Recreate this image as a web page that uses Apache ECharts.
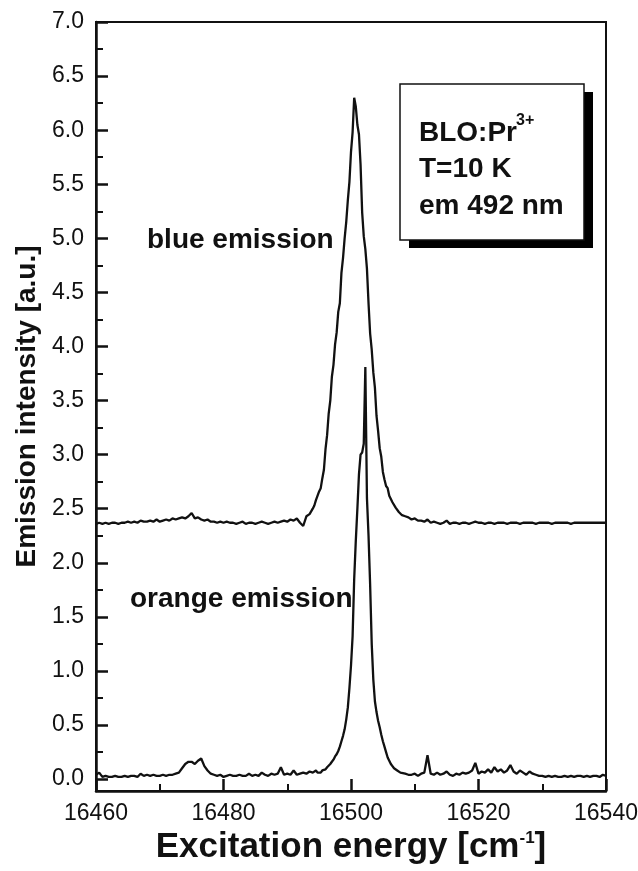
<!DOCTYPE html>
<html>
<head>
<meta charset="utf-8">
<script src="https://cdn.jsdelivr.net/npm/echarts@6/dist/echarts.min.js"></script>
<style>
  html, body { margin: 0; padding: 0; background: #fff; }
  #chart { width: 638px; height: 871px; }
</style>
</head>
<body>
<div id="chart"></div>
<script>
// excitation energy grid (cm-1): coarse wings, fine steps across the peaks
var energyA = [
  16460, 16460.5, 16461, 16461.5, 16462, 16462.5, 16463, 16463.5, 16464, 16464.5,
  16465, 16465.5, 16466, 16466.5, 16467, 16467.5, 16468, 16468.5, 16469, 16469.5,
  16470, 16470.5, 16471, 16471.5, 16472, 16472.5, 16473, 16473.5, 16474, 16474.5,
  16475, 16475.5, 16476, 16476.5, 16477, 16477.5, 16478, 16478.5, 16479, 16479.5,
  16480, 16480.5, 16481, 16481.5, 16482, 16482.5, 16483, 16483.5, 16484, 16484.5,
  16485, 16485.5, 16486, 16486.5, 16487, 16487.5, 16488, 16488.5, 16489, 16489.5,
  16490, 16490.5, 16491, 16491.5, 16492, 16492.5, 16493, 16493.5, 16494
]
var energyB = [
  16494.25, 16494.5, 16494.75, 16495, 16495.25, 16495.5, 16495.75, 16496, 16496.25, 16496.5,
  16496.75, 16497, 16497.25, 16497.5, 16497.75, 16498, 16498.25, 16498.5, 16498.75, 16499,
  16499.25, 16499.5, 16499.75, 16500, 16500.25, 16500.5, 16500.75, 16501, 16501.25, 16501.5,
  16501.75, 16502, 16502.25, 16502.5, 16502.75, 16503, 16503.25, 16503.5, 16503.75, 16504,
  16504.25, 16504.5, 16504.75, 16505, 16505.25, 16505.5, 16505.75, 16506, 16506.25, 16506.5,
  16506.75, 16507, 16507.25, 16507.5, 16507.75, 16508
]
var energyC = [
  16508.5, 16509, 16509.5, 16510, 16510.5, 16511, 16511.5, 16512, 16512.5, 16513,
  16513.5, 16514, 16514.5, 16515, 16515.5, 16516, 16516.5, 16517, 16517.5, 16518,
  16518.5, 16519, 16519.5, 16520, 16520.5, 16521, 16521.5, 16522, 16522.5, 16523,
  16523.5, 16524, 16524.5, 16525, 16525.5, 16526, 16526.5, 16527, 16527.5, 16528,
  16528.5, 16529, 16529.5, 16530, 16530.5, 16531, 16531.5, 16532, 16532.5, 16533,
  16533.5, 16534, 16534.5, 16535, 16535.5, 16536, 16536.5, 16537, 16537.5, 16538,
  16538.5, 16539, 16539.5, 16540
]

// blue emission (offset trace)
var blueA = [
  2.36, 2.37, 2.36, 2.37, 2.36, 2.37, 2.37, 2.36, 2.37, 2.37,
  2.38, 2.37, 2.38, 2.37, 2.39, 2.38, 2.38, 2.39, 2.38, 2.40,
  2.38, 2.39, 2.40, 2.39, 2.41, 2.40, 2.41, 2.42, 2.41, 2.43,
  2.46, 2.41, 2.42, 2.40, 2.39, 2.40, 2.38, 2.38, 2.37, 2.38,
  2.37, 2.38, 2.37, 2.37, 2.36, 2.37, 2.38, 2.36, 2.37, 2.37,
  2.36, 2.37, 2.38, 2.37, 2.36, 2.37, 2.38, 2.37, 2.38, 2.39,
  2.38, 2.40, 2.39, 2.41, 2.37, 2.34, 2.43, 2.45, 2.50
]
var blueB = [
  2.53, 2.58, 2.59, 2.66, 2.69, 2.78, 2.86, 3.05, 3.18, 3.38,
  3.50, 3.72, 3.83, 4.02, 4.13, 4.32, 4.40, 4.68, 4.82, 5.00,
  5.15, 5.35, 5.52, 5.80, 5.98, 6.30, 6.22, 6.05, 5.96, 5.68,
  5.24, 5.02, 4.90, 4.72, 4.40, 4.12, 3.97, 3.76, 3.62, 3.36,
  3.22, 3.06, 2.98, 2.84, 2.77, 2.71, 2.69, 2.62, 2.61, 2.56,
  2.55, 2.51, 2.50, 2.47, 2.47, 2.44
]
var blueC = [
  2.43, 2.42, 2.40, 2.41, 2.39, 2.39, 2.38, 2.40, 2.37, 2.38,
  2.37, 2.36, 2.37, 2.39, 2.36, 2.37, 2.37, 2.36, 2.37, 2.37,
  2.36, 2.37, 2.38, 2.37, 2.37, 2.36, 2.37, 2.37, 2.36, 2.37,
  2.37, 2.37, 2.36, 2.37, 2.37, 2.37, 2.36, 2.37, 2.37, 2.37,
  2.37, 2.36, 2.37, 2.37, 2.37, 2.37, 2.36, 2.37, 2.37, 2.37,
  2.37, 2.37, 2.36, 2.37, 2.37, 2.37, 2.37, 2.37, 2.37, 2.37,
  2.37, 2.37, 2.37, 2.37
]

// orange emission
var orangeA = [
  0.04, 0.06, 0.02, 0.03, 0.02, 0.02, 0.03, 0.02, 0.02, 0.03,
  0.02, 0.03, 0.03, 0.02, 0.05, 0.03, 0.04, 0.03, 0.04, 0.03,
  0.03, 0.04, 0.03, 0.04, 0.04, 0.05, 0.06, 0.10, 0.14, 0.16,
  0.16, 0.14, 0.17, 0.19, 0.12, 0.08, 0.05, 0.04, 0.03, 0.04,
  0.02, 0.03, 0.04, 0.03, 0.03, 0.04, 0.03, 0.03, 0.05, 0.03,
  0.04, 0.03, 0.06, 0.04, 0.03, 0.05, 0.04, 0.05, 0.11, 0.04,
  0.05, 0.04, 0.08, 0.04, 0.05, 0.06, 0.05, 0.07, 0.06
]
var orangeB = [
  0.05, 0.08, 0.06, 0.07, 0.06, 0.08, 0.08, 0.09, 0.11, 0.12,
  0.14, 0.16, 0.18, 0.21, 0.23, 0.26, 0.30, 0.35, 0.40, 0.46,
  0.55, 0.66, 0.84, 1.05, 1.32, 1.85, 2.20, 2.50, 2.82, 3.00,
  3.02, 3.10, 3.81, 2.60, 2.25, 1.80, 1.25, 0.92, 0.72, 0.62,
  0.54, 0.48, 0.41, 0.35, 0.30, 0.25, 0.20, 0.17, 0.14, 0.12,
  0.10, 0.09, 0.08, 0.07, 0.06, 0.05
]
var orangeC = [
  0.05, 0.04, 0.04, 0.05, 0.03, 0.05, 0.06, 0.22, 0.05, 0.04,
  0.06, 0.04, 0.05, 0.07, 0.04, 0.03, 0.05, 0.04, 0.06, 0.05,
  0.06, 0.08, 0.15, 0.05, 0.07, 0.06, 0.09, 0.06, 0.11, 0.07,
  0.09, 0.06, 0.08, 0.13, 0.07, 0.05, 0.08, 0.06, 0.04, 0.07,
  0.05, 0.04, 0.03, 0.03, 0.02, 0.03, 0.02, 0.03, 0.02, 0.02,
  0.03, 0.02, 0.03, 0.02, 0.03, 0.03, 0.02, 0.03, 0.02, 0.03,
  0.03, 0.02, 0.04, 0.03
]

var yMajor = [0, 0.5, 1, 1.5, 2, 2.5, 3, 3.5, 4, 4.5, 5, 5.5, 6, 6.5, 7]
var yMinor = [0.25, 0.75, 1.25, 1.75, 2.25, 2.75, 3.25, 3.75, 4.25, 4.75, 5.25, 5.75, 6.25, 6.75]

var energy = energyA.concat(energyB, energyC)
var blue = blueA.concat(blueB, blueC)
var orange = orangeA.concat(orangeB, orangeC)
if (blue.length !== energy.length || orange.length !== energy.length) {
  throw new Error('length mismatch ' + energy.length + ' ' + blue.length + ' ' + orange.length)
}

function pairs(xs, ys) {
  return xs.map(function (x, i) { return [x, ys[i]] })
}

var FONT = '"Liberation Sans", Arial, Helvetica, sans-serif'
var INK = '#111'

var chart = echarts.init(document.getElementById('chart'), null, { renderer: 'canvas' })

var option = {
  backgroundColor: '#fff',
  animation: false,
  grid: {
    left: 96, right: 32, top: 22, bottom: 80,
    show: true, borderColor: INK, borderWidth: 2,
    outerBoundsMode: 'none'
  },
  xAxis: {
    type: 'value',
    min: 16460, max: 16540, interval: 20,
    name: 'Excitation energy [cm{sup|-1}]',
    nameLocation: 'middle',
    nameGap: 36,
    nameTextStyle: {
      fontFamily: FONT, fontSize: 35, fontWeight: 'bold', color: INK,
      rich: { sup: { fontFamily: FONT, fontSize: 17, fontWeight: 'bold', color: INK, verticalAlign: 'top' } }
    },
    axisLine: { show: true, onZero: false, lineStyle: { color: INK, width: 2.5 } },
    axisTick: { show: true, inside: true, length: 12, lineStyle: { color: INK, width: 2.5 } },
    minorTick: { show: true, splitNumber: 2, length: 7, lineStyle: { color: INK, width: 2 } },
    axisLabel: {
      fontFamily: FONT, fontSize: 23, color: INK, margin: 11,
      showMinLabel: true, showMaxLabel: true,
      formatter: function (v) { return String(v) }
    },
    splitLine: { show: false }
  },
  yAxis: [
    {
      type: 'value',
      min: -0.11, max: 7.0,
      position: 'left',
      name: 'Emission intensity [a.u.]',
      nameLocation: 'middle',
      nameRotate: 90,
      nameGap: 53,
      nameTextStyle: { fontFamily: FONT, fontSize: 28, fontWeight: 'bold', color: INK },
      axisLine: { show: true, onZero: false, lineStyle: { color: INK, width: 2.5 } },
      axisTick: { show: true, inside: true, length: 12, customValues: yMajor, lineStyle: { color: INK, width: 2.5 } },
      axisLabel: {
        fontFamily: FONT, fontSize: 23, color: INK, margin: 12,
        customValues: yMajor,
        formatter: function (v) { return v.toFixed(1) }
      },
      splitLine: { show: false }
    },
    {
      type: 'value',
      min: -0.11, max: 7.0,
      position: 'left',
      offset: 0,
      axisLine: { show: false },
      axisTick: { show: true, inside: true, length: 7, customValues: yMinor, lineStyle: { color: INK, width: 2 } },
      axisLabel: { show: false },
      splitLine: { show: false }
    }
  ],
  series: [
    {
      name: 'blue emission',
      type: 'line',
      yAxisIndex: 0,
      data: pairs(energy, blue),
      showSymbol: false,
      lineStyle: { color: INK, width: 2.3 },
      z: 3
    },
    {
      name: 'orange emission',
      type: 'line',
      yAxisIndex: 0,
      data: pairs(energy, orange),
      showSymbol: false,
      lineStyle: { color: INK, width: 2.3 },
      z: 3
    }
  ],
  graphic: [
    {
      type: 'text', x: 147, y: 240, z: 10,
      style: { text: 'blue emission', font: 'bold 28px ' + FONT, fill: INK,
        align: 'left', verticalAlign: 'middle', textAlign: 'left', textVerticalAlign: 'middle' }
    },
    {
      type: 'text', x: 130, y: 599, z: 10,
      style: { text: 'orange emission', font: 'bold 28px ' + FONT, fill: INK,
        align: 'left', verticalAlign: 'middle', textAlign: 'left', textVerticalAlign: 'middle' }
    },
    // info box with drop shadow
    {
      type: 'rect', z: 10,
      shape: { x: 409, y: 92, width: 184, height: 156 },
      style: { fill: '#000' }
    },
    {
      type: 'rect', z: 11,
      shape: { x: 400, y: 84, width: 184, height: 156 },
      style: { fill: '#fff', stroke: INK, lineWidth: 1.5 }
    },
    {
      type: 'text', x: 419, y: 133, z: 12,
      style: { text: 'BLO:Pr', font: 'bold 28px ' + FONT, fill: INK,
        align: 'left', verticalAlign: 'middle', textAlign: 'left', textVerticalAlign: 'middle' }
    },
    {
      type: 'text', x: 516, y: 121, z: 12,
      style: { text: '3+', font: 'bold 16px ' + FONT, fill: INK,
        align: 'left', verticalAlign: 'middle', textAlign: 'left', textVerticalAlign: 'middle' }
    },
    {
      type: 'text', x: 419, y: 169, z: 12,
      style: { text: 'T=10 K', font: 'bold 28px ' + FONT, fill: INK,
        align: 'left', verticalAlign: 'middle', textAlign: 'left', textVerticalAlign: 'middle' }
    },
    {
      type: 'text', x: 419, y: 206, z: 12,
      style: { text: 'em 492 nm', font: 'bold 28px ' + FONT, fill: INK,
        align: 'left', verticalAlign: 'middle', textAlign: 'left', textVerticalAlign: 'middle' }
    }
  ]
}

chart.setOption(option)
</script>
</body>
</html>
